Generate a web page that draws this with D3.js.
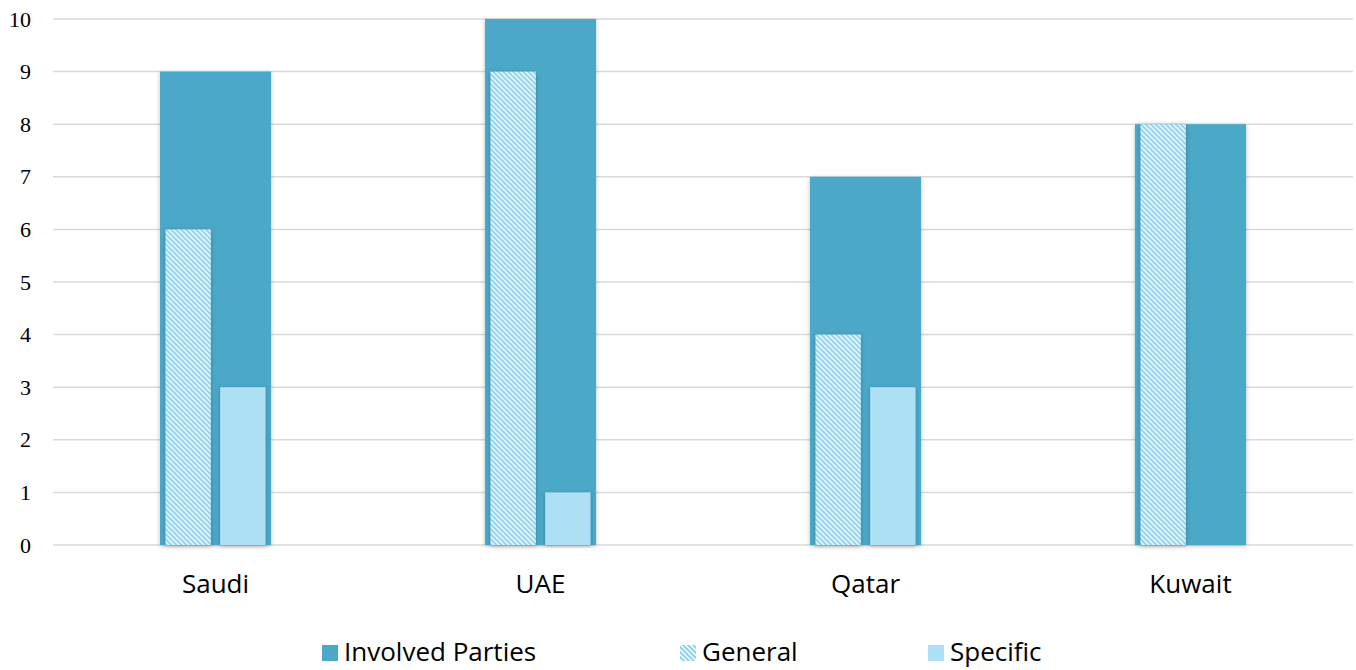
<!DOCTYPE html>
<html>
<head>
<meta charset="utf-8">
<script src="https://cdn.jsdelivr.net/npm/d3@7"></script>
<style>
  body { margin: 0; background: #fff; }
  svg { display: block; }
</style>
</head>
<body>
<div id="viz"></div>
<script>
const countries = ["Saudi", "UAE", "Qatar", "Kuwait"];
const involved = [9, 10, 7, 8];
const general = [6, 9, 4, 8];
const specific = [3, 1, 3, 0];
const yTicks = [0, 1, 2, 3, 4, 5, 6, 7, 8, 9, 10];

const W = 1356, H = 670;
const margin = {top: 19, right: 3, bottom: 125, left: 53};
const width = W - margin.left - margin.right,
      height = H - margin.top - margin.bottom;
const sans = "'Open Sans', 'Liberation Sans', sans-serif";

const svg = d3.select("#viz").append("svg")
    .attr("width", W).attr("height", H);

const defs = svg.append("defs");
const pat = defs.append("pattern")
    .attr("id", "hatch")
    .attr("patternUnits", "userSpaceOnUse")
    .attr("width", 5).attr("height", 5);
pat.append("rect").attr("width", 5).attr("height", 5).attr("fill", "#fff");
pat.append("path")
    .attr("d", "M-1,-1 L6,6 M-1,4 L1,6 M4,-1 L6,1")
    .attr("stroke", "#8ed3f0").attr("stroke-width", 2.2);

const shadow = defs.append("filter").attr("id", "shadow")
    .attr("x", "-20%").attr("y", "-5%").attr("width", "140%").attr("height", "110%");
shadow.append("feDropShadow")
    .attr("dx", 0).attr("dy", 1).attr("stdDeviation", 2)
    .attr("flood-color", "#000").attr("flood-opacity", 0.25);

const g = svg.append("g")
    .attr("transform", `translate(${margin.left},${margin.top})`);

const x = d3.scaleBand().domain(countries).range([0, width]).padding(0);
const y = d3.scaleLinear().domain([0, 10]).range([height, 0]);
const wideW = x.bandwidth() * 0.342;
const x1 = d3.scaleBand().domain(["General", "Specific"])
    .range([-50, 50]).paddingInner(0.17);

// gridlines
g.append("g")
  .selectAll("line")
  .data(yTicks)
  .enter().append("line")
    .attr("x1", 0).attr("x2", width)
    .attr("y1", d => y(d)).attr("y2", d => y(d))
    .attr("stroke", "#d9d9d9").attr("stroke-width", 1.5);

// y axis labels
const yAxis = g.append("g")
    .call(d3.axisLeft(y).tickValues(yTicks).tickSize(0).tickPadding(22).tickFormat(d3.format("d")));
yAxis.select(".domain").remove();
yAxis.selectAll("text")
    .attr("font-family", "'Liberation Serif', 'Times New Roman', serif")
    .attr("font-size", 22).attr("fill", "#000");

const rows = countries.map((c, i) => ({c, inv: involved[i], gen: general[i], spec: specific[i]}));

const grp = g.selectAll(".country")
  .data(rows)
  .enter().append("g")
    .attr("transform", d => `translate(${x(d.c) + x.bandwidth() / 2},0)`);

grp.append("rect")
    .attr("x", -wideW / 2)
    .attr("width", wideW)
    .attr("y", d => y(d.inv))
    .attr("height", d => height - y(d.inv))
    .attr("fill", "#4ba8c8")
    .attr("filter", "url(#shadow)");

grp.filter(d => d.gen > 0).append("rect")
    .attr("x", x1("General"))
    .attr("width", x1.bandwidth())
    .attr("y", d => y(d.gen))
    .attr("height", d => height - y(d.gen))
    .attr("fill", "url(#hatch)")
    .attr("filter", "url(#shadow)");

grp.filter(d => d.spec > 0).append("rect")
    .attr("x", x1("Specific"))
    .attr("width", x1.bandwidth())
    .attr("y", d => y(d.spec))
    .attr("height", d => height - y(d.spec))
    .attr("fill", "#addff5")
    .attr("filter", "url(#shadow)");

// x axis labels
const xAxis = g.append("g")
    .attr("transform", `translate(0,${height})`)
    .call(d3.axisBottom(x).tickSize(0).tickPadding(30));
xAxis.select(".domain").remove();
xAxis.selectAll("text")
    .attr("font-family", sans)
    .attr("font-size", 26).attr("fill", "#000");

// legend
const legendItems = [
  {name: "Involved Parties", fill: "#4ba8c8", x: 322},
  {name: "General", fill: "url(#hatch)", x: 680},
  {name: "Specific", fill: "#addff5", x: 928}
];
const leg = svg.append("g");
const li = leg.selectAll("g").data(legendItems).enter().append("g")
    .attr("transform", d => `translate(${d.x},652)`);
li.append("rect")
    .attr("x", 0).attr("y", -7).attr("width", 16).attr("height", 16)
    .attr("fill", d => d.fill);
li.append("text")
    .attr("x", 22).attr("y", 0).attr("dy", "0.35em")
    .attr("font-family", sans)
    .attr("font-size", 26).attr("fill", "#000")
    .text(d => d.name);
</script>
</body>
</html>
